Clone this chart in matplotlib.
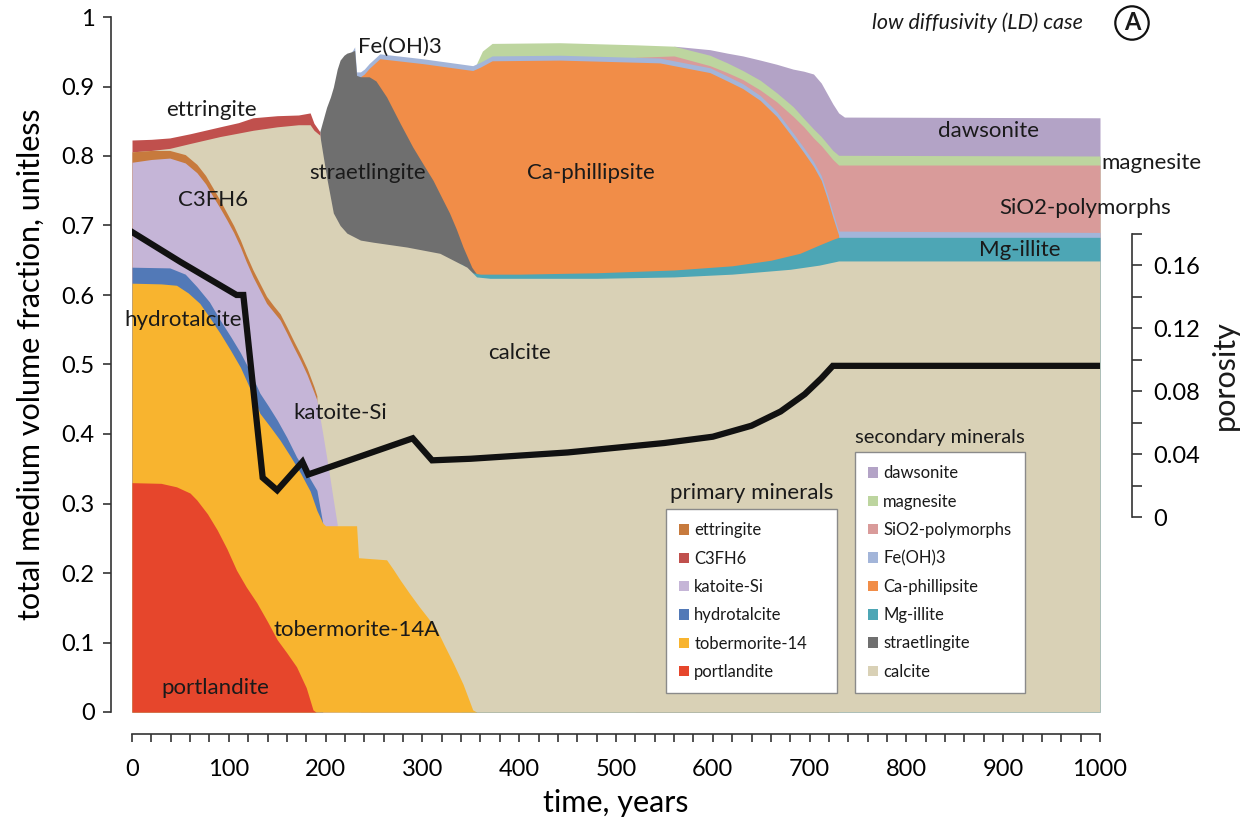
import matplotlib
matplotlib.use("Agg")
import matplotlib.pyplot as plt
from matplotlib.patches import Patch
from matplotlib.ticker import MultipleLocator, FixedLocator, FixedFormatter

plt.rcParams['font.family'] = ['Lato', 'DejaVu Sans']
plt.rcParams['text.color'] = '#1a1a1a'

# cumulative top surface of each mineral layer (volume fraction) vs time (years)
t_dawsonite = [560, 597, 615, 631, 649, 666, 683, 694, 704, 712, 718, 724, 730, 736, 1000]
top_dawsonite = [0.958, 0.953, 0.948, 0.944, 0.938, 0.932, 0.925, 0.922, 0.918, 0.905, 0.89, 0.875, 0.862, 0.856, 0.855]

t_magnesite = [355, 362, 372, 442, 520, 560, 597, 615, 631, 649, 666, 683, 694, 704, 712, 718, 724, 730, 1000]
top_magnesite = [0.93, 0.951, 0.962, 0.963, 0.96, 0.958, 0.945, 0.934, 0.923, 0.909, 0.891, 0.871, 0.854,
                 0.839, 0.828, 0.818, 0.808, 0.801, 0.80]

t_sio2 = [520, 560, 597, 615, 631, 649, 666, 683, 694, 704, 712, 718, 724, 730, 1000]
top_sio2 = [0.942, 0.944, 0.93, 0.92, 0.91, 0.895, 0.878, 0.857, 0.842, 0.826, 0.815, 0.805, 0.795, 0.787, 0.787]

t_feoh3 = [224, 228, 230, 232, 236, 240, 245, 256, 300, 352, 360, 372, 442, 545, 597, 615, 631, 649, 666,
           683, 694, 704, 712, 718, 724, 730, 1000]
top_feoh3 = [0.946, 0.952, 0.957, 0.921, 0.921, 0.925, 0.933, 0.947, 0.94, 0.93, 0.935, 0.944, 0.945, 0.941,
             0.927, 0.915, 0.904, 0.887, 0.864, 0.833, 0.812, 0.792, 0.772, 0.747, 0.719, 0.692, 0.69]

t_phillipsite = [236, 240, 245, 256, 300, 352, 360, 372, 442, 545, 597, 615, 631, 649, 666, 683, 694, 704,
                 712, 718, 724, 730]
top_phillipsite = [0.914, 0.918, 0.926, 0.94, 0.933, 0.923, 0.928, 0.937, 0.938, 0.934, 0.92, 0.908, 0.897,
                   0.88, 0.857, 0.826, 0.805, 0.785, 0.765, 0.74, 0.712, 0.686]

t_straetlingite = [194, 197, 201, 205, 208, 212, 215, 219, 222, 227, 230, 232, 236, 245, 252, 263, 277, 290,
                   300, 311, 320, 328, 335, 342, 351, 356]
top_straetlingite = [0.835, 0.85, 0.87, 0.885, 0.899, 0.925, 0.938, 0.945, 0.948, 0.95, 0.952, 0.916, 0.914,
                     0.914, 0.908, 0.885, 0.847, 0.813, 0.79, 0.765, 0.74, 0.718, 0.695, 0.669, 0.64, 0.63]

t_illite = [340, 352, 360, 400, 480, 560, 620, 660, 690, 710, 724, 730, 1000]
top_illite = [0.645, 0.632, 0.63, 0.63, 0.632, 0.636, 0.642, 0.65, 0.66, 0.672, 0.68, 0.683, 0.683]

t_c3fh6 = [0, 20, 39, 60, 91, 110, 125, 150, 172, 184, 188, 194]
top_c3fh6 = [0.823, 0.824, 0.826, 0.832, 0.842, 0.848, 0.855, 0.858, 0.859, 0.862, 0.847, 0.835]

t_calcite = [0, 20, 39, 60, 91, 110, 125, 150, 172, 184, 188, 194, 197, 201, 208, 215, 222, 236, 249, 284,
             318, 346, 356, 370, 480, 560, 620, 680, 710, 730, 1000]
top_calcite = [0.806, 0.808, 0.811, 0.818, 0.828, 0.833, 0.837, 0.842, 0.845, 0.845, 0.837, 0.83, 0.804, 0.77,
               0.718, 0.70, 0.689, 0.679, 0.676, 0.669, 0.66, 0.64, 0.626, 0.624, 0.624, 0.626, 0.63, 0.637,
               0.643, 0.649, 0.649]

t_ettringite = [0, 20, 39, 55, 67, 76, 84, 91, 98, 105, 112, 118, 125, 132, 139, 146, 153, 160, 167, 174,
                181, 188, 191]
top_ettringite = [0.806, 0.808, 0.808, 0.802, 0.788, 0.772, 0.753, 0.736, 0.718, 0.70, 0.679, 0.658, 0.636,
                  0.617, 0.598, 0.585, 0.573, 0.554, 0.534, 0.515, 0.494, 0.468, 0.455]

t_katoite = [0, 20, 39, 55, 67, 76, 84, 91, 98, 105, 112, 118, 125, 132, 139, 146, 153, 160, 167, 174, 181,
             188, 191, 194, 197, 203, 208, 212]
top_katoite = [0.791, 0.795, 0.797, 0.79, 0.776, 0.76, 0.741, 0.725, 0.708, 0.69, 0.669, 0.648, 0.626, 0.607,
               0.588, 0.576, 0.564, 0.545, 0.525, 0.506, 0.485, 0.46, 0.449, 0.425, 0.401, 0.35, 0.305, 0.27]

t_hydrotalcite = [0, 39, 55, 67, 80, 91, 102, 112, 122, 132, 141, 150, 160, 170, 180, 191, 197]
top_hydrotalcite = [0.64, 0.639, 0.63, 0.612, 0.59, 0.564, 0.54, 0.517, 0.49, 0.459, 0.44, 0.42, 0.395, 0.367,
                    0.345, 0.319, 0.272]

t_tobermorite = [0, 30, 46, 58, 70, 80, 91, 102, 112, 122, 132, 143, 153, 164, 174, 184, 191, 197, 200, 232,
                 234, 263, 270, 277, 287, 297, 306, 315, 323, 332, 342, 352, 356]
top_tobermorite = [0.617, 0.616, 0.614, 0.603, 0.588, 0.568, 0.545, 0.52, 0.496, 0.465, 0.43, 0.41, 0.391,
                   0.367, 0.344, 0.318, 0.29, 0.272, 0.268, 0.268, 0.222, 0.219, 0.205, 0.19, 0.17, 0.151,
                   0.135, 0.118, 0.095, 0.07, 0.04, 0.003, 0.0]

t_portlandite = [0, 30, 46, 60, 67, 78, 88, 98, 108, 118, 129, 140, 150, 160, 170, 180, 187, 190]
top_portlandite = [0.33, 0.329, 0.324, 0.315, 0.305, 0.285, 0.262, 0.235, 0.204, 0.18, 0.157, 0.13, 0.104,
                   0.085, 0.065, 0.035, 0.003, 0.0]

# porosity (right axis)
t_porosity = [0, 50, 108, 115, 135, 150, 176, 182, 290, 310, 350, 400, 450, 500, 550, 600, 640, 670, 695,
              712, 724, 1000]
porosity = [0.181, 0.162, 0.141, 0.141, 0.025, 0.017, 0.035, 0.027, 0.050, 0.036, 0.037, 0.039, 0.041, 0.044,
            0.047, 0.051, 0.058, 0.067, 0.078, 0.088, 0.096, 0.096]

colors = {
    'dawsonite': '#B3A3C6', 'magnesite': '#BDD59F', 'SiO2-polymorphs': '#D99B9A', 'Fe(OH)3': '#A3B5D9',
    'Ca-phillipsite': '#F18D48', 'straetlingite': '#6F6F6F', 'Mg-illite': '#4DA6B5', 'C3FH6': '#C0504D',
    'calcite': '#D9D1B6', 'ettringite': '#C77A3D', 'katoite-Si': '#C5B5D7', 'hydrotalcite': '#5279B7',
    'tobermorite-14': '#F8B42F', 'portlandite': '#E6462C',
}

# drawn from the top of the stack downwards, each filled to zero
layers = [
    ('dawsonite', t_dawsonite, top_dawsonite),
    ('magnesite', t_magnesite, top_magnesite),
    ('SiO2-polymorphs', t_sio2, top_sio2),
    ('Fe(OH)3', t_feoh3, top_feoh3),
    ('Ca-phillipsite', t_phillipsite, top_phillipsite),
    ('straetlingite', t_straetlingite, top_straetlingite),
    ('Mg-illite', t_illite, top_illite),
    ('C3FH6', t_c3fh6, top_c3fh6),
    ('calcite', t_calcite, top_calcite),
    ('ettringite', t_ettringite, top_ettringite),
    ('katoite-Si', t_katoite, top_katoite),
    ('hydrotalcite', t_hydrotalcite, top_hydrotalcite),
    ('tobermorite-14', t_tobermorite, top_tobermorite),
    ('portlandite', t_portlandite, top_portlandite),
]

fig = plt.figure(figsize=(12.52, 8.26), dpi=100)
ax = fig.add_axes([132 / 1252, 114 / 826, 968 / 1252, 695 / 826])

for name, t, top in layers:
    ax.fill_between(t, 0, top, color=colors[name], linewidth=0)

ax.set_xlim(0, 1000)
ax.set_ylim(0, 1)
for side in ['top', 'right']:
    ax.spines[side].set_visible(False)
ax.spines['left'].set_position(('outward', 15))
ax.spines['bottom'].set_position(('outward', 16))
ax.spines['left'].set_bounds(0, 1)
ax.spines['bottom'].set_bounds(0, 1000)
for side in ['left', 'bottom']:
    ax.spines[side].set_linewidth(1.2)
    ax.spines[side].set_color('#333333')

ax.xaxis.set_major_locator(MultipleLocator(100))
ax.xaxis.set_minor_locator(MultipleLocator(20))
ax.yaxis.set_major_locator(MultipleLocator(0.1))
ax.yaxis.set_major_formatter(plt.FuncFormatter(lambda v, p: f'{v:g}'))
ax.tick_params(axis='both', which='both', direction='out', length=6, width=1.2, color='#333333',
               labelsize=17)
ax.tick_params(axis='x', pad=12)
ax.tick_params(axis='y', pad=6)
ax.set_xlabel('time, years', fontsize=22, labelpad=6)
ax.set_ylabel('total medium volume fraction, unitless', fontsize=22, labelpad=12)

# in-plot mineral labels
labels = [
    ('ettringite', 82, 0.866), ('C3FH6', 84, 0.737), ('straetlingite', 243, 0.776),
    ('Fe(OH)3', 277, 0.957), ('Ca-phillipsite', 474, 0.776), ('dawsonite', 885, 0.836),
    ('magnesite', 1053, 0.79), ('SiO2-polymorphs', 985, 0.725), ('Mg-illite', 917, 0.665),
    ('calcite', 400, 0.517), ('hydrotalcite', 53, 0.564), ('katoite-Si', 215, 0.43),
    ('tobermorite-14A', 232, 0.118), ('portlandite', 86, 0.035),
]
for text, x, y in labels:
    ax.text(x, y, text, fontsize=16, ha='center', va='center', clip_on=False)

# porosity on a second axis
ax2 = ax.twinx()
ax2.plot(t_porosity, porosity, color='#111111', linewidth=4.5, solid_joinstyle='miter')
ax2.set_ylim(-0.1238, 0.3175)
for side in ['top', 'left', 'bottom']:
    ax2.spines[side].set_visible(False)
ax2.spines['right'].set_position(('outward', 23))
ax2.spines['right'].set_bounds(0, 0.18)
ax2.spines['right'].set_linewidth(1.2)
ax2.spines['right'].set_color('#333333')
ax2.yaxis.set_major_locator(FixedLocator([0, 0.04, 0.08, 0.12, 0.16]))
ax2.yaxis.set_major_formatter(FixedFormatter(['0', '0.04', '0.08', '0.12', '0.16']))
ax2.yaxis.set_minor_locator(FixedLocator([0.02, 0.06, 0.10, 0.14, 0.18]))
ax2.tick_params(axis='y', which='both', direction='out', length=7, width=1.2, color='#333333',
                labelsize=17, pad=8)
fig.text(1225 / 1252, 1 - 375 / 826, 'porosity', fontsize=22, rotation=90, ha='center', va='center')

# legends
primary = ['ettringite', 'C3FH6', 'katoite-Si', 'hydrotalcite', 'tobermorite-14', 'portlandite']
secondary = ['dawsonite', 'magnesite', 'SiO2-polymorphs', 'Fe(OH)3', 'Ca-phillipsite', 'Mg-illite',
             'straetlingite', 'calcite']


def make_legend(names, x0, y_top, width):
    handles = [Patch(facecolor=colors[n], edgecolor='none', label=n) for n in names]
    leg = fig.legend(handles=handles, loc='upper left', bbox_to_anchor=(x0, y_top - 0.3, width, 0.3),
                     mode='expand', fontsize=12, frameon=True, fancybox=False, framealpha=1,
                     facecolor='white', handlelength=0.6, handleheight=0.6, handletextpad=0.3,
                     labelspacing=0.74, borderpad=0.8, borderaxespad=0)
    leg.get_frame().set_edgecolor('#8a8a8a')
    leg.get_frame().set_linewidth(1.0)
    return leg


make_legend(primary, 666 / 1252, 1 - 509 / 826, 171 / 1252)
make_legend(secondary, 855 / 1252, 1 - 452 / 826, 170 / 1252)
fig.text(752 / 1252, 1 - 493 / 826, 'primary minerals', fontsize=16, ha='center', va='center')
fig.text(940 / 1252, 1 - 437 / 826, 'secondary minerals', fontsize=14.5, ha='center', va='center')

fig.text(977 / 1252, 1 - 23 / 826, 'low diffusivity (LD) case', fontsize=15.5, style='italic',
         ha='center', va='center')
fig.text(1132 / 1252, 1 - 23 / 826, 'A', fontsize=17, fontweight='bold', ha='center', va='center',
         bbox=dict(boxstyle='circle,pad=0.22', facecolor='white', edgecolor='#111111', linewidth=1.6))

fig.savefig('out.png', dpi=100)
